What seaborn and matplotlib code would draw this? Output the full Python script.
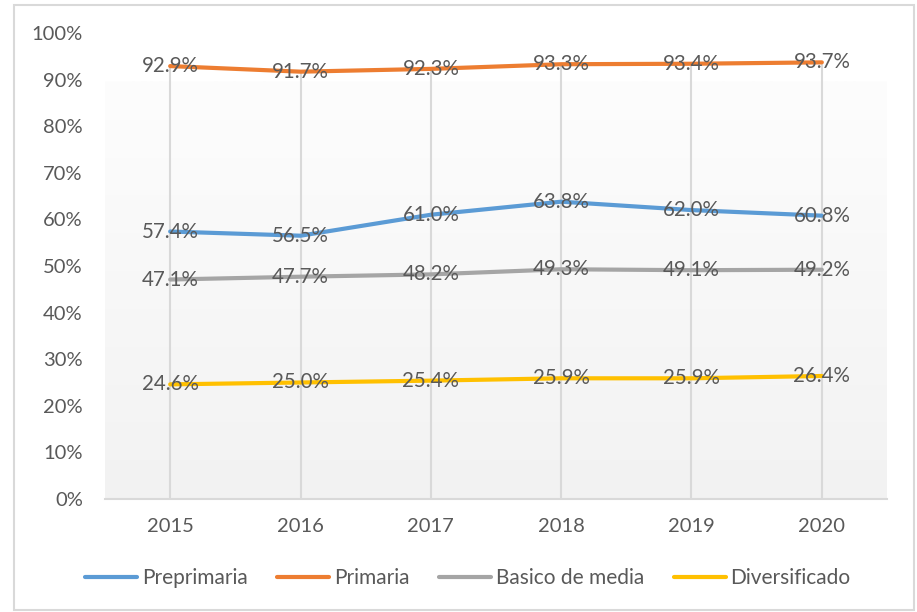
import numpy as np
import pandas as pd
import matplotlib
matplotlib.use("Agg")
import matplotlib.pyplot as plt
from matplotlib.patches import Rectangle
import seaborn as sns

years = ["2015", "2016", "2017", "2018", "2019", "2020"]
preprimaria = [57.4, 56.5, 61.0, 63.8, 62.0, 60.8]
primaria = [92.9, 91.7, 92.3, 93.3, 93.4, 93.7]
basico = [47.1, 47.7, 48.2, 49.3, 49.1, 49.2]
diversificado = [24.6, 25.0, 25.4, 25.9, 25.9, 26.4]
series_names = ["Preprimaria", "Primaria", "Basico de media", "Diversificado"]
colors = ["#5B9BD5", "#ED7D31", "#A5A5A5", "#FFC000"]
y_ticks = [0, 10, 20, 30, 40, 50, 60, 70, 80, 90, 100]

sns.set_theme(style="white")
plt.rcParams["font.family"] = ["Lato", "DejaVu Sans"]
TXT = "#595959"

df = pd.DataFrame({
    "year": years * 4,
    "x": list(range(len(years))) * 4,
    "value": preprimaria + primaria + basico + diversificado,
    "serie": sum([[n] * len(years) for n in series_names], []),
})

fig = plt.figure(figsize=(9.17, 6.12), dpi=100)
ax = fig.add_axes([105 / 917, 1 - 499 / 612, (887 - 105) / 917, (499 - 33) / 612])

# gradient background of plot area
grad = np.linspace(0, 1, 256).reshape(-1, 1)
cmap = matplotlib.colors.LinearSegmentedColormap.from_list("g", ["#f2f2f2", "#fdfdfd"])
ax.imshow(grad, cmap=cmap, aspect="auto", origin="lower",
          extent=[-0.5, len(years) - 0.5, 0, 89.5], zorder=0)

# drop lines
maxvals = np.max(np.array([preprimaria, primaria, basico, diversificado]), axis=0)
ax.vlines(range(len(years)), 0, maxvals, color="#d9d9d9", lw=1.5, zorder=1)

sns.lineplot(data=df, x="x", y="value", hue="serie", palette=colors,
             hue_order=series_names, lw=3, ax=ax, zorder=3, legend=True)

for vals in [preprimaria, primaria, basico, diversificado]:
    for i, v in enumerate(vals):
        ax.text(i, v, f"{v:.1f}%", ha="center", va="center", fontsize=14.8,
                color=TXT, zorder=4)

ax.set_xlim(-0.5, len(years) - 0.5)
ax.set_ylim(0, 100)
ax.set_xticks(range(len(years)))
ax.set_xticklabels(years)
ax.set_yticks(y_ticks)
ax.set_yticklabels([f"{t}%" for t in y_ticks])
ax.tick_params(axis="both", length=0, labelsize=14.5, labelcolor=TXT)
ax.tick_params(axis="y", pad=16)
ax.tick_params(axis="x", pad=14)
ax.set_xlabel("")
ax.set_ylabel("")
for s in ["top", "right", "left"]:
    ax.spines[s].set_visible(False)
ax.spines["bottom"].set_color("#d9d9d9")
ax.spines["bottom"].set_linewidth(1.5)
ax.set_facecolor("white")

handles, labels = ax.get_legend_handles_labels()
ax.get_legend().remove()
fig.legend(handles, labels, loc="center", bbox_to_anchor=(468 / 917, 1 - 578 / 612),
           ncol=4, frameon=False, fontsize=15, handlelength=2.5, handletextpad=0.24,
           columnspacing=1.4, labelcolor=TXT)

fig.patches.append(Rectangle((14 / 917, 2 / 612), (914 - 14) / 917, (607 - 2) / 612,
                             transform=fig.transFigure, fill=False,
                             edgecolor="#d9d9d9", lw=1.5))

fig.savefig("out.png", dpi=100)
